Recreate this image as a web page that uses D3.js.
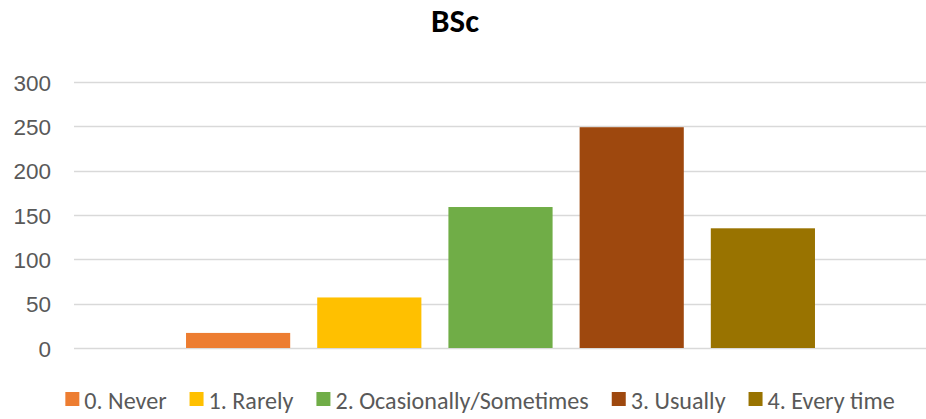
<!DOCTYPE html>
<html>
<head>
<meta charset="utf-8">
<script src="https://cdn.jsdelivr.net/npm/d3@7"></script>
<style>
  html, body { margin: 0; padding: 0; background: #fff; }
  svg { display: block; font-family: Carlito, Lato, "Open Sans", sans-serif; }
</style>
</head>
<body>
<svg id="chart" width="926" height="419"></svg>
<script>
const title = "BSc";
const seriesNames = ["0. Never", "1. Rarely", "2. Ocasionally/Sometimes", "3. Usually", "4. Every time"];
const seriesValues = [17, 57, 159, 249, 135];
const seriesColors = ["#ED7D31", "#FFC000", "#70AD47", "#9E480E", "#997300"];
const yTicks = [0, 50, 100, 150, 200, 250, 300];

const svg = d3.select("#chart");
const plot = { left: 74, right: 926, top: 82, bottom: 348 };

const y = d3.scaleLinear().domain([0, 300]).range([plot.bottom, plot.top]);
const x = d3.scaleBand()
  .domain(seriesNames)
  .range([plot.left + 0.5, plot.right + 0.5])
  .paddingInner(0.206)
  .paddingOuter(0.85);

// gridlines
svg.append("g").selectAll("line")
  .data(yTicks).join("line")
  .attr("x1", plot.left).attr("x2", plot.right)
  .attr("y1", d => Math.round(y(d)) + 0.5).attr("y2", d => Math.round(y(d)) + 0.5)
  .attr("stroke", "#D9D9D9").attr("stroke-width", 1.3);

// y axis labels
const yAxis = d3.axisLeft(y).tickValues(yTicks).tickSize(0).tickPadding(0);
const yg = svg.append("g").attr("transform", "translate(51,0)").call(yAxis);
yg.select(".domain").remove();
yg.selectAll("text")
  .attr("fill", "#595959")
  .style("font-size", "22.5px")
  .attr("dy", "0.36em");

// bars
svg.append("g").selectAll("rect")
  .data(seriesNames).join("rect")
  .attr("x", d => x(d))
  .attr("width", x.bandwidth())
  .attr("y", (d, i) => y(seriesValues[i]))
  .attr("height", (d, i) => y(0) - y(seriesValues[i]))
  .attr("fill", (d, i) => seriesColors[i]);

// title
svg.append("text")
  .attr("x", 455).attr("y", 32)
  .attr("text-anchor", "middle")
  .attr("fill", "#000")
  .style("font-size", "33px")
  .style("font-weight", "bold")
  .text(title);

// legend
const sq = 14, gapText = 5, gapItem = 23;
const lg = svg.append("g");
const items = lg.selectAll("g").data(seriesNames).join("g");
items.append("rect")
  .attr("width", sq).attr("height", sq)
  .attr("y", 392)
  .attr("fill", (d, i) => seriesColors[i]);
items.append("text")
  .attr("x", sq + gapText)
  .attr("y", 400)
  .attr("dy", "0.36em")
  .attr("fill", "#595959")
  .style("font-size", "24.1px")
  .text(d => d);
let widths = [];
items.each(function () {
  widths.push(sq + gapText + d3.select(this).select("text").node().getComputedTextLength());
});
const total = d3.sum(widths) + gapItem * (widths.length - 1);
let cx = 480 - total / 2;
items.each(function (d, i) {
  d3.select(this).attr("transform", `translate(${cx},0)`);
  cx += widths[i] + gapItem;
});
</script>
</body>
</html>
